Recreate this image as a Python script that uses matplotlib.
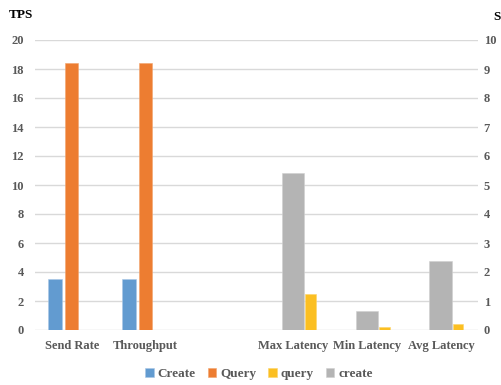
import numpy as np
import matplotlib
matplotlib.use("Agg")
import matplotlib.pyplot as plt

categories = ["Send Rate", "Throughput", "", "Max Latency", "Min Latency", "Avg Latency"]
create_tps = [3.5, 3.5, np.nan, np.nan, np.nan, np.nan]
query_tps = [18.4, 18.4, np.nan, np.nan, np.nan, np.nan]
query_s = [np.nan, np.nan, np.nan, 1.25, 0.09, 0.21]
create_s = [np.nan, np.nan, np.nan, 5.4, 0.67, 2.39]

left_ticks = list(range(0, 21, 2))
right_ticks = list(range(0, 11))

plt.rcParams["font.family"] = ["Liberation Serif", "DejaVu Serif"]
plt.rcParams["font.weight"] = "bold"

fig = plt.figure(figsize=(5.02, 3.85), dpi=100)
ax = fig.add_axes([35 / 502, 55 / 385, 443 / 502, 290 / 385])
ax2 = ax.twinx()

x = np.arange(len(categories))
c_blue, c_orange, c_yellow, c_gray = "#629BD0", "#ED7D31", "#FBBF22", "#B4B4B4"

# TPS series on the left axis, latency (seconds) series on the right axis
b1 = ax.bar(x - 0.229, create_tps, width=0.182, color=c_blue, edgecolor="#A9C8E6",
            linewidth=0.4, label="Create", zorder=3)
b2 = ax.bar(x - 0.005, query_tps, width=0.178, color=c_orange, edgecolor="#F2A46E",
            linewidth=0.4, label="Query", zorder=3)
b4 = ax2.bar(x - 0.005, create_s, width=0.306, color=c_gray, edgecolor="#D0D0D0",
             linewidth=0.4, label="create", zorder=3)
b3 = ax2.bar(x + 0.229, query_s, width=0.145, color=c_yellow, edgecolor="#FCD46A",
             linewidth=0.4, label="query", zorder=3)

ax.set_xlim(-0.5, len(categories) - 0.5)
ax.set_ylim(0, 20)
ax2.set_ylim(0, 10)
ax.set_yticks(left_ticks)
ax2.set_yticks(right_ticks)
ax.set_xticks(x)
ax.set_xticklabels(categories)

tick_color = "#595959"
ax.tick_params(axis="y", length=0, pad=8, labelsize=9, labelcolor=tick_color)
ax2.tick_params(axis="y", length=0, pad=4, labelsize=9, labelcolor=tick_color)
ax.tick_params(axis="x", length=0, pad=7, labelsize=9, labelcolor=tick_color)
for lbl in ax.get_yticklabels() + ax2.get_yticklabels() + ax.get_xticklabels():
    lbl.set_fontweight("bold")

for a in (ax, ax2):
    for s in a.spines.values():
        s.set_visible(False)

ax.set_axisbelow(True)
ax.grid(axis="y", color="#D9D9D9", linewidth=1.0, zorder=0)
ax.grid(axis="x", visible=False)

fig.text(9 / 502, 1 - 15 / 385, "TPS", fontsize=9.5, fontweight="bold",
         color="black", va="center", ha="left")
fig.text(493 / 502, 1 - 17 / 385, "S", fontsize=9.5, fontweight="bold",
         color="black", va="center", ha="left")

leg = fig.legend([b1, b2, b3, b4], ["Create", "Query", "query", "create"],
                 loc="center", bbox_to_anchor=(259 / 502, 1 - 374 / 385), ncol=4,
                 frameon=False, handlelength=0.65, handleheight=0.65, handletextpad=0.3,
                 columnspacing=0.9, prop={"size": 9.5, "weight": "bold"})
for t in leg.get_texts():
    t.set_color(tick_color)

fig.savefig("out.png", dpi=100)
